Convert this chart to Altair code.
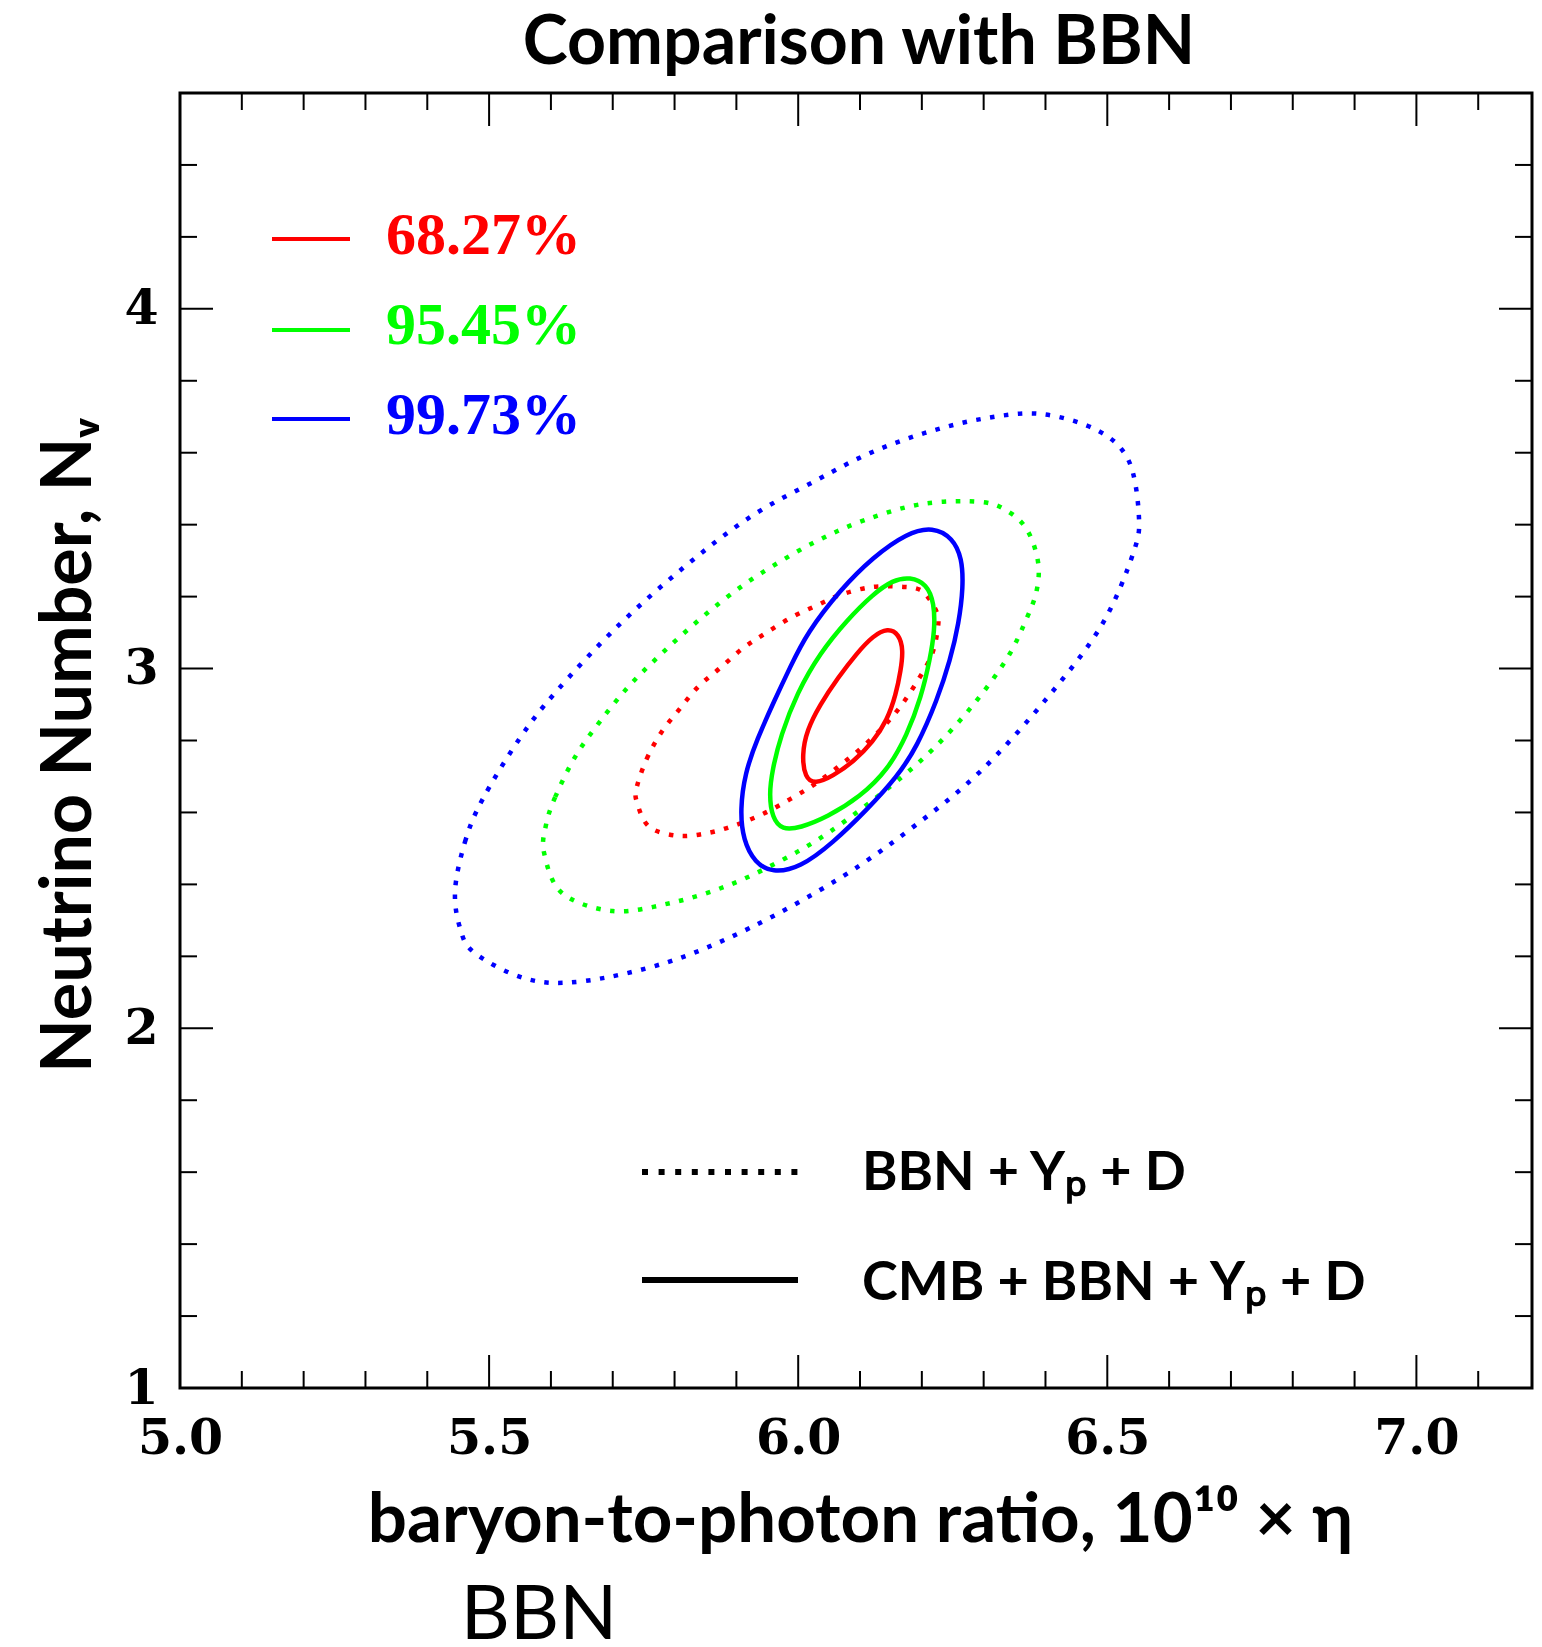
import altair as alt
import pandas as pd

# ---------------- data ----------------
# BBN+Yp+D (dotted) contours
bbn_6827_x = [5.739, 5.755, 5.778, 5.807, 5.838, 5.874, 5.911, 5.948, 5.990, 6.032, 6.072, 6.121, 6.170, 6.197, 6.213, 6.225,
              6.226, 6.216, 6.192, 6.166, 6.136, 6.100, 6.064, 6.027, 5.987, 5.943, 5.899, 5.854, 5.806, 5.759, 5.739]
bbn_6827_y = [2.671, 2.749, 2.821, 2.885, 2.949, 3.002, 3.057, 3.099, 3.143, 3.177, 3.207, 3.227, 3.227, 3.219, 3.191, 3.152,
              3.113, 3.038, 2.963, 2.896, 2.835, 2.776, 2.726, 2.679, 2.637, 2.596, 2.565, 2.543, 2.535, 2.560, 2.629]
bbn_9545_x = [5.592, 5.607, 5.639, 5.679, 5.725, 5.775, 5.828, 5.883, 5.941, 6.024, 6.108, 6.202, 6.297, 6.343, 6.372,
              6.388, 6.386, 6.370, 6.338, 6.283, 6.218, 6.148, 6.051, 5.971, 5.885, 5.793, 5.700, 5.618, 5.589]
bbn_9545_y = [2.565, 2.643, 2.754, 2.852, 2.949, 3.035, 3.118, 3.196, 3.266, 3.349, 3.413, 3.458, 3.463, 3.433, 3.380,
              3.296, 3.219, 3.141, 3.029, 2.899, 2.776, 2.671, 2.546, 2.465, 2.396, 2.348, 2.326, 2.376, 2.487]
bbn_9973_x = [5.445, 5.461, 5.489, 5.550, 5.608, 5.707, 5.814, 5.922, 6.030, 6.116, 6.205, 6.297, 6.391, 6.483, 6.534,
              6.551, 6.542, 6.491, 6.404, 6.294, 6.184, 6.068, 5.922, 5.789, 5.652, 5.561, 5.477, 5.453]
bbn_9973_y = [2.384, 2.518, 2.635, 2.807, 2.935, 3.116, 3.280, 3.421, 3.524, 3.599, 3.655, 3.694, 3.708, 3.663, 3.580,
              3.427, 3.321, 3.121, 2.921, 2.713, 2.557, 2.418, 2.279, 2.184, 2.131, 2.137, 2.209, 2.279]

# CMB+BBN+Yp+D (solid) contours
cmb_6827_x = [6.145, 6.163, 6.170, 6.166, 6.158, 6.144, 6.121, 6.089, 6.056, 6.027, 6.011, 6.006, 6.014, 6.035, 6.064,
              6.095, 6.121]
cmb_6827_y = [3.113, 3.096, 3.052, 2.996, 2.927, 2.857, 2.796, 2.740, 2.701, 2.679, 2.696, 2.760, 2.829, 2.899, 2.974,
              3.043, 3.091]
cmb_9545_x = [6.181, 6.208, 6.220, 6.221, 6.213, 6.199, 6.176, 6.145, 6.100, 6.047, 6.003, 5.974, 5.958, 5.953, 5.958,
              5.972, 5.998, 6.035, 6.079, 6.121, 6.153]
cmb_9545_y = [3.255, 3.235, 3.182, 3.107, 3.024, 2.921, 2.815, 2.718, 2.643, 2.587, 2.557, 2.551, 2.585, 2.649, 2.718,
              2.815, 2.932, 3.043, 3.135, 3.207, 3.246]
cmb_9973_x = [6.218, 6.250, 6.265, 6.267, 6.260, 6.246, 6.225, 6.192, 6.160, 6.111, 6.056, 6.003, 5.958, 5.930, 5.911,
              5.906, 5.914, 5.933, 5.962, 5.987, 6.014, 6.068, 6.121, 6.176]
cmb_9973_y = [3.394, 3.363, 3.307, 3.227, 3.127, 3.024, 2.913, 2.782, 2.699, 2.607, 2.515, 2.446, 2.432, 2.460, 2.523,
              2.607, 2.710, 2.802, 2.913, 3.004, 3.099, 3.219, 3.310, 3.377]

levels = ["68.27%", "95.45%", "99.73%"]
level_colors = ["#ff0000", "#00ff00", "#0000ff"]
datasets = ["BBN+Yp+D", "CMB+BBN+Yp+D"]
dataset_labels = ["BBN + Yₚ + D", "CMB + BBN + Yₚ + D"]

x_tick_labels = [5.0, 5.5, 6.0, 6.5, 7.0]
x_minor_ticks = [5.1, 5.2, 5.3, 5.4, 5.6, 5.7, 5.8, 5.9, 6.1, 6.2, 6.3, 6.4, 6.6, 6.7, 6.8, 6.9, 7.1]
y_tick_labels = [1, 2, 3, 4]
y_minor_ticks = [1.2, 1.4, 1.6, 1.8, 2.2, 2.4, 2.6, 2.8, 3.2, 3.4, 3.6, 3.8, 4.2, 4.4]

# visible axis range (the page is a few pixels narrower than the original, so the
# right edge stops just short of 7.2 to keep the original x scale)
x_domain = [5.0, 7.187]
y_domain = [1.0, 4.6]

title_text = "Comparison with BBN"
x_title = "baryon-to-photon ratio, 10¹⁰ × η"
y_title = "Neutrino Number, Nᵥ"
caption_text = "BBN"

# ---------------- build tables ----------------
contours = [
    ("bbn68", datasets[0], levels[0], bbn_6827_x, bbn_6827_y),
    ("bbn95", datasets[0], levels[1], bbn_9545_x, bbn_9545_y),
    ("bbn99", datasets[0], levels[2], bbn_9973_x, bbn_9973_y),
    ("cmb68", datasets[1], levels[0], cmb_6827_x, cmb_6827_y),
    ("cmb95", datasets[1], levels[1], cmb_9545_x, cmb_9545_y),
    ("cmb99", datasets[1], levels[2], cmb_9973_x, cmb_9973_y),
]
rows = []
for cid, ds, lev, xs, ys in contours:
    for i, (xv, yv) in enumerate(zip(xs, ys)):
        rows.append({"contour": cid, "dataset": ds, "level": lev, "x": xv, "y": yv, "i": i})
df = pd.DataFrame(rows)

W, H = 1352, 1295
xs_scale = alt.Scale(domain=x_domain, nice=False, zero=False)
ys_scale = alt.Scale(domain=y_domain, nice=False, zero=False)
color_scale = alt.Scale(domain=levels, range=level_colors)

x_axis = alt.Axis(values=x_tick_labels, format=".1f", ticks=False, domain=False, grid=False,
                  labelFont="DejaVu Serif", labelFontWeight="bold", labelFontSize=49, labelColor="black",
                  labelPadding=26, labelFlush=False, labelOverlap=False,
                  title=x_title, titleFont="Lato", titleFontWeight="bold", titleFontSize=69, titleColor="black",
                  titleX=680, titleY=153, titleBaseline="alphabetic")
y_axis = alt.Axis(values=y_tick_labels, format="d", ticks=False, domain=False, grid=False,
                  labelFont="DejaVu Serif", labelFontWeight="bold", labelFontSize=49, labelColor="black",
                  labelPadding=22, labelOverlap=False,
                  title=y_title, titleFont="Lato", titleFontWeight="bold", titleFontSize=70, titleColor="black",
                  titleAngle=270, titleX=-90, titleY=652, titleBaseline="alphabetic", titleAlign="center")


def X(field):
    return alt.X(field, scale=xs_scale, axis=x_axis)


def Y(field):
    return alt.Y(field, scale=ys_scale, axis=y_axis)


dotted = alt.Chart(df[df.dataset == datasets[0]]).mark_line(
    interpolate="cardinal-closed", strokeWidth=4.5, strokeDash=[4.5, 9.5], strokeCap="butt"
).encode(
    x=X("x:Q"), y=Y("y:Q"),
    color=alt.Color("level:N", scale=color_scale, legend=None),
    detail="contour:N",
    order="i:Q",
)
solid = alt.Chart(df[df.dataset == datasets[1]]).mark_line(
    interpolate="basis-closed", strokeWidth=4.5
).encode(
    x=X("x:Q"), y=Y("y:Q"),
    color=alt.Color("level:N", scale=color_scale, legend=None),
    detail="contour:N",
    order="i:Q",
)


# inward ticks on all four sides
def xticks(vals, length):
    d = pd.DataFrame({"v": vals})
    base = alt.Chart(d).mark_rule(color="black", strokeWidth=2)
    bottom = base.encode(x=X("v:Q"), y=alt.value(H), y2=alt.value(H - length))
    top = base.encode(x=X("v:Q"), y=alt.value(0), y2=alt.value(length))
    return [bottom, top]


def yticks(vals, length):
    d = pd.DataFrame({"v": vals})
    base = alt.Chart(d).mark_rule(color="black", strokeWidth=2)
    left = base.encode(y=Y("v:Q"), x=alt.value(0), x2=alt.value(length))
    right = base.encode(y=Y("v:Q"), x=alt.value(W), x2=alt.value(W - length))
    return [left, right]


tick_layers = xticks(x_tick_labels, 33) + xticks(x_minor_ticks, 17) + yticks(y_tick_labels, 33) + yticks(y_minor_ticks, 17)

# colour legend (top-left)
legend_layers = []
leg_line_y = [146, 237, 326]
leg_text_y = [161, 251, 341]
for lab, col, ly, ty in zip(levels, level_colors, leg_line_y, leg_text_y):
    d = pd.DataFrame({"label": [lab]})
    legend_layers.append(alt.Chart(d).mark_rule(color=col, strokeWidth=4).encode(
        x=alt.value(92), x2=alt.value(170), y=alt.value(ly)))
    legend_layers.append(alt.Chart(d).mark_text(
        align="left", baseline="alphabetic", font="Liberation Serif", fontWeight="bold", fontSize=60, color=col
    ).encode(text="label:N", x=alt.value(206), y=alt.value(ty)))

# line-style legend (bottom)
style_line_y = [1079, 1187]
style_text_y = [1097, 1207]
style_dash = [[6, 10.6], [1, 0]]
for lab, ly, ty, dash in zip(dataset_labels, style_line_y, style_text_y, style_dash):
    d = pd.DataFrame({"label": [lab]})
    legend_layers.append(alt.Chart(d).mark_rule(color="black", strokeWidth=6, strokeDash=dash, strokeCap="butt").encode(
        x=alt.value(462), x2=alt.value(618), y=alt.value(ly)))
    legend_layers.append(alt.Chart(d).mark_text(
        align="left", baseline="alphabetic", font="Lato", fontWeight="bold", fontSize=54, color="black"
    ).encode(text="label:N", x=alt.value(682), y=alt.value(ty)))

title_mark = alt.Chart(pd.DataFrame({"t": [title_text]})).mark_text(
    align="center", baseline="alphabetic", font="Lato", fontSize=68, fontWeight="bold", color="black"
).encode(text="t:N", x=alt.value(679), y=alt.value(-29))

caption = alt.Chart(pd.DataFrame({"t": [caption_text]})).mark_text(
    align="center", baseline="alphabetic", font="Lato", fontSize=76, color="black"
).encode(text="t:N", x=alt.value(359), y=alt.value(1546))

chart = alt.layer(dotted, solid, *tick_layers, *legend_layers, title_mark, caption).properties(
    width=W, height=H,
    autosize=alt.AutoSizeParams(type="none"),
    padding={"left": 172, "top": 85, "right": 2, "bottom": 251},
    background="white",
).configure_view(stroke="black", strokeWidth=3)

chart.save("out.html", embed_options={"renderer": "svg", "actions": False})
